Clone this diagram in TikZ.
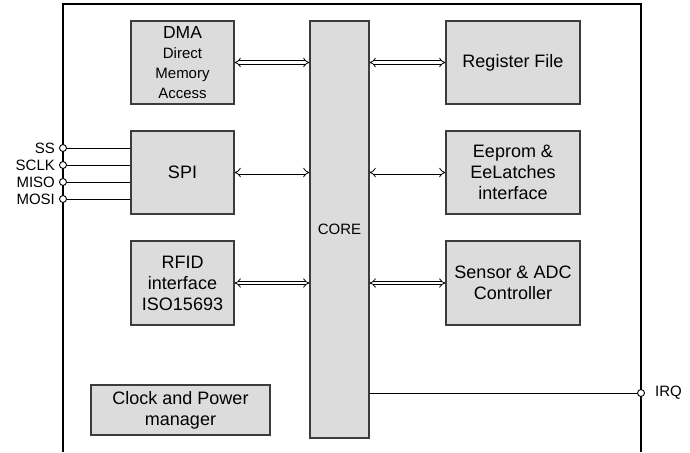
\documentclass[tikz,border=0pt]{standalone}
\usepackage{fontspec}
\setmainfont{Liberation Sans}
\usetikzlibrary{arrows.meta}
\definecolor{bgrey}{RGB}{220,220,220}
\definecolor{edgegrey}{RGB}{60,60,60}
\tikzset{
  block/.style={draw=edgegrey,line width=1.2pt,fill=bgrey,align=center,inner sep=0pt,
    font=\fontsize{18}{21}\selectfont},
  pin/.style={circle,draw,line width=0.9pt,fill=white,inner sep=0pt,minimum size=7pt},
  sig/.style={font=\fontsize{15}{17}\selectfont,inner sep=1pt},
  bus/.style={double,double distance=2.4pt,line width=0.8pt,{Implies}-{Implies}},
}

\begin{document}
\begin{tikzpicture}[x=1pt,y=-1pt]
\useasboundingbox (0,0) rectangle (690,452);
% chip outline
\draw[line width=1.3pt] (63,452) -- (63,4) -- (641,4) -- (641,452);
% blocks
\node[block,minimum width=103pt,minimum height=83pt] (dma) at (182.5,62.5)
  {\fontsize{17.5}{20}\selectfont DMA\\[-1pt]{\fontsize{15}{20}\selectfont Direct}\\[-1pt]{\fontsize{15}{20}\selectfont Memory}\\[-1pt]{\fontsize{15}{20}\selectfont Access}};
\node[block,minimum width=103pt,minimum height=83pt] (spi) at (182.5,172.5) {SPI};
\node[block,minimum width=103pt,minimum height=84pt] (rfid) at (182.5,283) {RFID\\interface\\ISO15693};
\node[block,minimum width=179pt,minimum height=50pt] (clk) at (180.5,410) {Clock and Power\\manager};
\node[block,minimum width=59pt,minimum height=417pt,font=\fontsize{15}{17}\selectfont] (core) at (339.5,229.5) {CORE};
\node[block,minimum width=134pt,minimum height=83pt] (reg) at (513,62.5) {Register File};
\node[block,minimum width=134pt,minimum height=83pt] (eep) at (513,172.5) {Eeprom \&\\EeLatches\\interface};
\node[block,minimum width=134pt,minimum height=84pt] (sens) at (513,283) {Sensor \& ADC\\Controller};
% pins
\node[pin] (ss) at (63,148) {};
\node[pin] (sclk) at (63,165) {};
\node[pin] (miso) at (63,182) {};
\node[pin] (mosi) at (63,199) {};
\node[pin] (irq) at (641,393) {};
\node[sig,anchor=east,xshift=-3pt] at (ss.west) {SS};
\node[sig,anchor=east,xshift=-3pt] at (sclk.west) {SCLK};
\node[sig,anchor=east,xshift=-3pt] at (miso.west) {MISO};
\node[sig,anchor=east,xshift=-3pt] at (mosi.west) {MOSI};
\node[sig,anchor=west,xshift=9pt] at (irq.east) {IRQ};
% buses
\draw[bus] (dma.east) -- (core.west |- dma.east);
\draw[bus] (spi.east) -- (core.west |- spi.east);
\draw[bus] (rfid.east) -- (core.west |- rfid.east);
\draw[bus] (core.east |- reg.west) -- (reg.west);
\draw[bus] (core.east |- eep.west) -- (eep.west);
\draw[bus] (core.east |- sens.west) -- (sens.west);
% wires
\draw[line width=0.9pt] (ss) -- (spi.west |- ss);
\draw[line width=0.9pt] (sclk) -- (spi.west |- sclk);
\draw[line width=0.9pt] (miso) -- (spi.west |- miso);
\draw[line width=0.9pt] (mosi) -- (spi.west |- mosi);
\draw[line width=0.9pt] (core.east |- irq) -- (irq);
\end{tikzpicture}
\end{document}
